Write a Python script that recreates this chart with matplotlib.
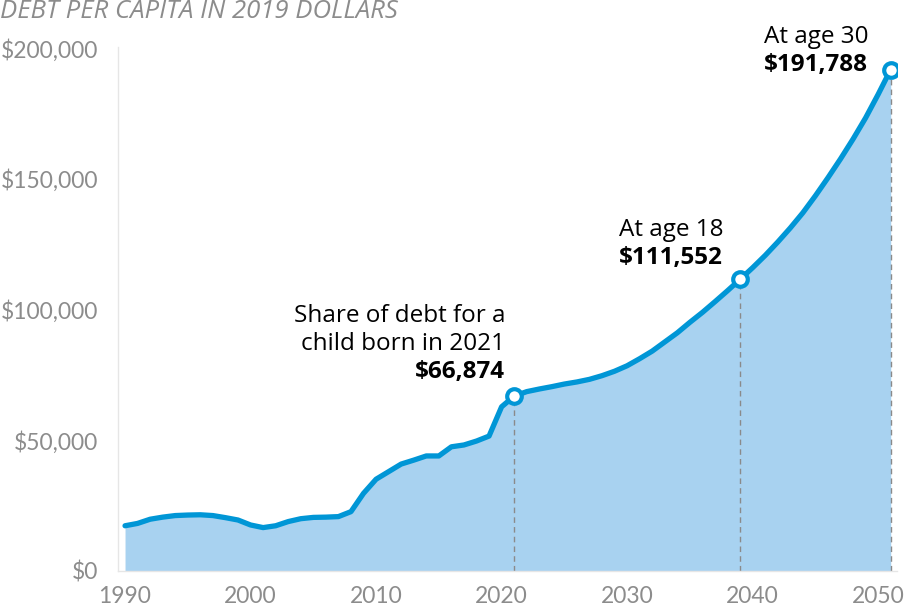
import numpy as np
import matplotlib
matplotlib.use("Agg")
import matplotlib.pyplot as plt

plt.rcParams['font.family'] = ['Lato', 'DejaVu Sans']
wide_font = ['Open Sans', 'DejaVu Sans']

# debt per capita, 2019 dollars
years = list(range(1990, 2052))
debt = [
    17300, 18200, 19800, 20600, 21200, 21400, 21500, 21200, 20400, 19500,
    17600, 16600, 17300, 18900, 20000, 20500, 20600, 20800, 22700, 29700,
    35100, 38000, 40900, 42400, 44000, 44000, 47500, 48200, 49700, 51600,
    62800, 66874, 68600, 69600, 70500, 71500, 72300, 73300, 74700, 76400,
    78500, 81200, 84100, 87600, 91100, 95100, 98900, 103000, 107200, 111552,
    116000, 120700, 125800, 131200, 137000, 143500, 150400, 157600, 165200, 173300,
    182300, 191788,
]

marker_years = [2021, 2039, 2051]
marker_vals = [66874, 111552, 191788]
marker_heads = [["Share of debt for a", "child born in 2021"], ["At age 18"], ["At age 30"]]
marker_labels = ["$66,874", "$111,552", "$191,788"]

y_ticks = [0, 50000, 100000, 150000, 200000]
x_ticks = [1990, 2000, 2010, 2020, 2030, 2040, 2050]

line_col = '#0096d6'
fill_col = '#a8d2f0'
grey = '#8c8c8c'

fig = plt.figure(figsize=(9.1, 6.08), dpi=100)
ax = fig.add_axes([118 / 910, 37 / 608, 779 / 910, 524 / 608])

ax.fill_between(years, debt, 0, color=fill_col, linewidth=0, zorder=1)
ax.plot(years, debt, color=line_col, linewidth=3.8, solid_capstyle='round',
        solid_joinstyle='round', zorder=3)

for yr, v in zip(marker_years, marker_vals):
    ax.plot([yr, yr], [0, v], color='#8a8a8a', linewidth=1, linestyle=(0, (4, 3)), zorder=2)
ax.plot(marker_years, marker_vals, 'o', markersize=10.5, markerfacecolor='white',
        markeredgecolor=line_col, markeredgewidth=3, zorder=4)

# annotations: right edge and line positions (data coords)
right_edges = [2020.3, 2037.65, 2049.2]
line_step = 10700
for right, heads, lab, v_top in zip(right_edges, marker_heads, marker_labels,
                                    [97500, 130400, 204300]):
    yy = v_top
    for h in heads:
        ax.text(right, yy, h, ha='right', va='center', fontsize=17.5, color='black',
                family=wide_font)
        yy -= line_step
    ax.text(right, yy, lab, ha='right', va='center', fontsize=17.5,
            fontweight='bold', color='black', family=wide_font)

ax.set_xlim(1989.44, 2051.5)
ax.set_ylim(0, 200400)
ax.set_xticks(x_ticks)
ax.set_xticklabels([str(x) for x in x_ticks])
ax.set_yticks(y_ticks)
ax.set_yticklabels(['$0' if t == 0 else f'${t:,}' for t in y_ticks])
ax.tick_params(length=0, labelsize=16.5, labelcolor=grey)
ax.tick_params(axis='y', pad=14)
ax.tick_params(axis='x', pad=11)

for s in ['top', 'right']:
    ax.spines[s].set_visible(False)
for s in ['left', 'bottom']:
    ax.spines[s].set_color('#e6e6e6')
    ax.spines[s].set_linewidth(1)

fig.text(0.0, 1 - 11 / 608, 'DEBT PER CAPITA IN 2019 DOLLARS', ha='left', va='center',
         fontsize=18.5, style='italic', color=grey, family=wide_font)

fig.savefig('out.png', dpi=100)
